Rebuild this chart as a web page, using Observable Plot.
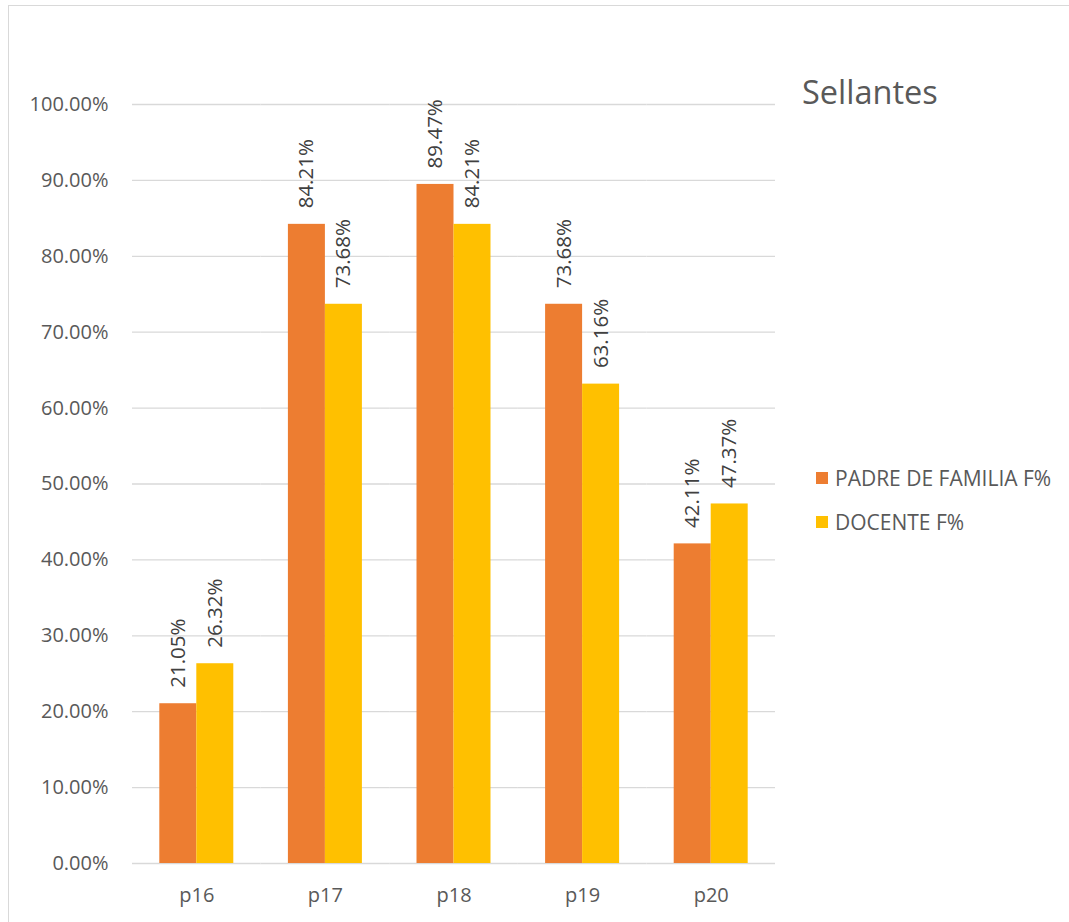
<!DOCTYPE html>
<html>
<head>
<meta charset="utf-8">
<script src="https://cdn.jsdelivr.net/npm/d3@7"></script>
<script src="https://cdn.jsdelivr.net/npm/@observablehq/plot@0.6"></script>
<style>
  html, body { margin: 0; padding: 0; background: #fff; }
  #wrap { position: relative; width: 1069px; height: 922px; font-family: "Open Sans", sans-serif; }
  #frame { position: absolute; left: 8px; top: 5px; width: 1070px; height: 930px; border: 1px solid #d9d9d9; box-sizing: border-box; pointer-events: none; }
  #title { position: absolute; left: 802px; top: 70px; font-size: 32.5px; color: #595959; line-height: 44px; }
  #legend { position: absolute; left: 816px; top: 466px; font-size: 21px; color: #595959; }
  .item { display: flex; align-items: center; height: 24px; margin-bottom: 20px; white-space: nowrap; }
  .sw { width: 12px; height: 12px; margin-right: 7px; flex: none; }
</style>
</head>
<body>
<div id="wrap">
  <div id="chart"></div>
  <div id="frame"></div>
  <div id="title">Sellantes</div>
  <div id="legend"></div>
</div>
<script>
// Preguntas (categorías) y porcentajes por grupo
const categories = ["p16", "p17", "p18", "p19", "p20"];
const seriesNames = ["PADRE DE FAMILIA F%", "DOCENTE F%"];
const padreValues = [21.05, 84.21, 89.47, 73.68, 42.11];
const docenteValues = [26.32, 73.68, 84.21, 63.16, 47.37];
const seriesColors = ["#ED7D31", "#FFC000"];
const yTicks = [0, 0.1, 0.2, 0.3, 0.4, 0.5, 0.6, 0.7, 0.8, 0.9, 1.0];

const rows = [];
categories.forEach((c, i) => {
  rows.push({cat: c, serie: seriesNames[0], value: padreValues[i] / 100});
  rows.push({cat: c, serie: seriesNames[1], value: docenteValues[i] / 100});
});

const pct = d3.format(".2%");

const chart = Plot.plot({
  width: 1069,
  height: 922,
  marginLeft: 132,
  marginRight: 294,
  marginTop: 104,
  marginBottom: 59,
  style: {fontFamily: "Open Sans, sans-serif", color: "#595959", background: "transparent"},
  fx: {domain: categories, padding: 0, round: false, axis: null},
  x: {domain: seriesNames, paddingInner: 0, paddingOuter: 0.738, round: false, axis: null},
  y: {domain: [0, 1], axis: null},
  color: {domain: seriesNames, range: seriesColors},
  marks: [
    Plot.ruleY(yTicks, {stroke: "#d9d9d9", strokeWidth: 1.3, strokeOpacity: 1}),
    Plot.barY(rows, {fx: "cat", x: "serie", y: "value", fill: "serie", inset: 0}),
    Plot.text(rows, {
      fx: "cat", x: "serie", y: "value",
      text: d => pct(d.value),
      rotate: -90, textAnchor: "start", dy: -16,
      fill: "#404040", fontSize: 20.5
    }),
    Plot.axisY(yTicks, {tickFormat: pct, tickSize: 0, tickPadding: 24, label: null, fontSize: 20, fill: "#595959"}),
    Plot.axisFx({anchor: "bottom", tickSize: 0, tickPadding: 24, label: null, fontSize: 20, fill: "#595959"})
  ]
});
document.getElementById("chart").appendChild(chart);

const legend = document.getElementById("legend");
seriesNames.forEach((s, i) => {
  const item = document.createElement("div");
  item.className = "item";
  item.innerHTML = `<span class="sw" style="background:${seriesColors[i]}"></span><span>${s}</span>`;
  legend.appendChild(item);
});
</script>
</body>
</html>
